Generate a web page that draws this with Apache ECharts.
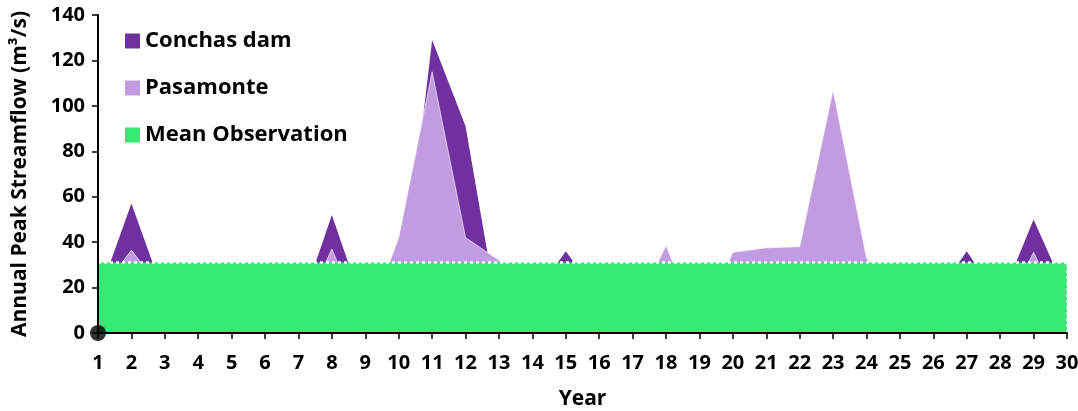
<!DOCTYPE html>
<html>
<head>
<meta charset="utf-8">
<script src="https://cdn.jsdelivr.net/npm/echarts@6/dist/echarts.min.js"></script>
<style>
  html, body { margin: 0; padding: 0; background: #fff; }
  #chart { width: 1078px; height: 411px; }
</style>
</head>
<body>
<div id="chart"></div>
<script>
// Year index along the x axis
const years = ['1','2','3','4','5','6','7','8','9','10','11','12','13','14','15',
               '16','17','18','19','20','21','22','23','24','25','26','27','28','29','30'];

// Annual peak streamflow (m3/s)
const conchasDam = [16, 57, 16, 12, 14, 10, 9, 52, 9, 4, 129, 91, 6, 15, 36,
                    16, 12, 14, 10, 18, 20, 22, 26, 14, 12, 15, 36, 14, 50, 17];
const pasamonte  = [17, 36.5, 17, 14, 12, 15, 5, 37, 2, 42, 115, 42, 32, 12, 14,
                    10, 8, 38.5, 2, 35.5, 37.5, 38, 107, 33, 10, 12, 14, 6, 35.5, 5];
const meanObservation = [31, 31, 31, 31, 31, 31, 31, 31, 31, 31, 31, 31, 31, 31, 31,
                         31, 31, 31, 31, 31, 31, 31, 31, 31, 31, 31, 31, 31, 31, 31];

const yTicks = { min: 0, max: 140, interval: 20 };

const FONT = '"Open Sans", "DejaVu Sans", sans-serif';
const colors = { conchas: '#7030A0', pasamonte: '#C29BE1', mean: '#33EA72' };

const chart = echarts.init(document.getElementById('chart'), null, { renderer: 'canvas' });

const lastIdx = years.length - 1;

chart.setOption({
  animation: false,
  backgroundColor: '#ffffff',
  grid: { left: 98, right: 11, top: 15, bottom: 78, containLabel: false, outerBoundsMode: 'none' },
  legend: {
    data: ['Conchas dam', 'Pasamonte', 'Mean Observation'],
    orient: 'vertical',
    left: 120,
    top: 25,
    itemGap: 25,
    itemWidth: 15,
    itemHeight: 15,
    icon: 'rect',
    textStyle: { fontFamily: FONT, fontWeight: 'bold', fontSize: 22, color: '#000' }
  },
  xAxis: {
    type: 'category',
    data: years,
    boundaryGap: false,
    name: 'Year',
    nameLocation: 'middle',
    nameGap: 56,
    nameTextStyle: { fontFamily: FONT, fontWeight: 'bold', fontSize: 21, color: '#000' },
    axisLine: { lineStyle: { color: '#000', width: 2 } },
    axisTick: { show: true, alignWithLabel: true, length: 6, lineStyle: { color: '#000', width: 1.5 } },
    axisLabel: { fontFamily: FONT, fontWeight: 'bold', fontSize: 20, color: '#000', margin: 20, interval: 0 },
    splitLine: { show: false },
    z: 10
  },
  yAxis: {
    type: 'value',
    min: yTicks.min,
    max: yTicks.max,
    interval: yTicks.interval,
    name: 'Annual Peak Streamflow (m³/s)',
    nameLocation: 'middle',
    nameGap: 67,
    nameRotate: 90,
    nameTextStyle: { fontFamily: FONT, fontWeight: 'bold', fontSize: 21, color: '#000' },
    axisLine: { show: true, lineStyle: { color: '#000', width: 2 } },
    axisTick: { show: true, length: 6, lineStyle: { color: '#000', width: 1.5 } },
    axisLabel: { fontFamily: FONT, fontWeight: 'bold', fontSize: 20, color: '#000', margin: 13 },
    splitLine: { show: false },
    z: 10
  },
  series: [
    {
      name: 'Conchas dam',
      type: 'line',
      data: conchasDam,
      showSymbol: false,
      symbol: 'none',
      lineStyle: { width: 0 },
      itemStyle: { color: colors.conchas },
      areaStyle: { color: colors.conchas, opacity: 1 },
      z: 2
    },
    {
      name: 'Pasamonte',
      type: 'line',
      data: pasamonte,
      showSymbol: false,
      symbol: 'none',
      lineStyle: { width: 1, color: '#ffffff', opacity: 0.6 },
      itemStyle: { color: colors.pasamonte },
      areaStyle: { color: colors.pasamonte, opacity: 1 },
      z: 3
    },
    {
      name: 'Mean Observation',
      type: 'line',
      data: meanObservation,
      showSymbol: false,
      symbol: 'none',
      lineStyle: { width: 2.5, color: '#ffffff', type: [3, 3] },
      itemStyle: { color: colors.mean },
      areaStyle: { color: colors.mean, opacity: 1 },
      markLine: {
        silent: true,
        symbol: 'none',
        label: { show: false },
        lineStyle: { color: '#ffffff', width: 2.5, type: [3, 3] },
        data: [[
          { coord: [years[lastIdx], 0] },
          { coord: [years[lastIdx], meanObservation[lastIdx]] }
        ]]
      },
      z: 4
    },
    {
      name: 'origin',
      type: 'scatter',
      data: [[years[0], 0]],
      symbol: 'circle',
      symbolSize: 16,
      itemStyle: { color: '#000' },
      clip: false,
      z: 12
    }
  ]
});
</script>
</body>
</html>
